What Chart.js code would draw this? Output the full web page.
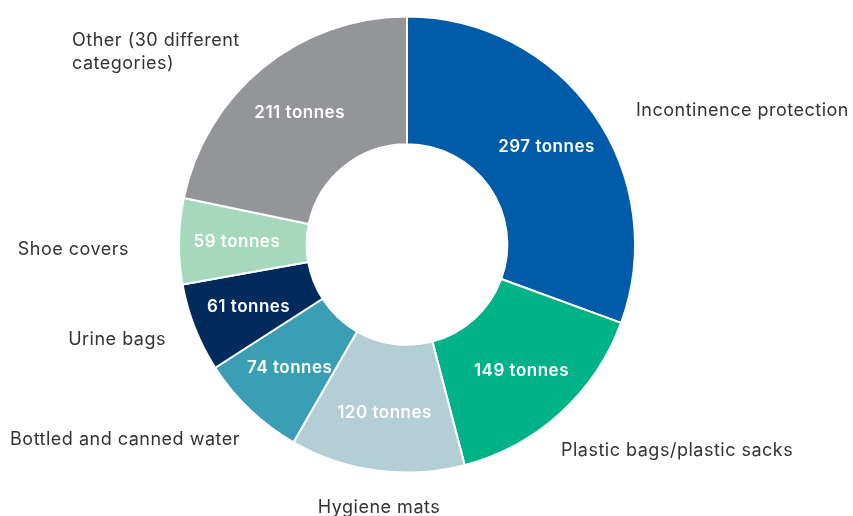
<!DOCTYPE html>
<html>
<head>
<meta charset="utf-8">
<script src="https://cdn.jsdelivr.net/npm/chart.js@4.4.1/dist/chart.umd.min.js"></script>
<style>
  html, body { margin: 0; padding: 0; background: #fff; }
  #wrap { width: 853px; height: 516px; position: relative; }
</style>
</head>
<body>
<div id="wrap"><canvas id="myChart"></canvas></div>
<script>
// waste categories, tonnes
const categories = [
  'Incontinence protection',
  'Plastic bags/plastic sacks',
  'Hygiene mats',
  'Bottled and canned water',
  'Urine bags',
  'Shoe covers',
  ['Other (30 different', 'categories)'],
];
const tonnes = [297, 149, 120, 74, 61, 59, 211];
const colours = ['#005ca9', '#00b386', '#b4ced6', '#3a9eb5', '#002b5c', '#a6d8bb', '#939598'];

// where each category name sits and how it is aligned
const namePlacement = [
  { x: 636, y: 111, align: 'left' },
  { x: 561, y: 451, align: 'left' },
  { x: 379, y: 508, align: 'center' },
  { x: 240, y: 440, align: 'right' },
  { x: 166, y: 340, align: 'right' },
  { x: 129, y: 250, align: 'right' },
  { x: 72, y: 41, align: 'left' },
];

const sliceLabels = {
  id: 'sliceLabels',
  afterDatasetsDraw(chart) {
    const c = chart.ctx;
    const meta = chart.getDatasetMeta(0);
    c.save();
    c.textBaseline = 'middle';

    // values inside the ring
    c.fillStyle = '#fff';
    c.textAlign = 'center';
    c.font = '600 17px Inter';
    c.letterSpacing = '0.5px';
    meta.data.forEach((arc, i) => {
      const mid = (arc.startAngle + arc.endAngle) / 2;
      const r = (arc.innerRadius + arc.outerRadius) / 2 + 6;
      c.fillText(tonnes[i] + ' tonnes', arc.x + Math.cos(mid) * r, arc.y + Math.sin(mid) * r);
    });

    // category names outside
    c.fillStyle = '#333';
    c.font = '18px Inter';
    c.letterSpacing = '0.5px';
    categories.forEach((name, i) => {
      const p = namePlacement[i];
      c.textAlign = p.align;
      const lines = Array.isArray(name) ? name : [name];
      lines.forEach((ln, k) => c.fillText(ln, p.x, p.y + k * 23));
    });
    c.restore();
  }
};

const ctx = document.getElementById('myChart').getContext('2d');
new Chart(ctx, {
  type: 'doughnut',
  data: {
    labels: categories,
    datasets: [{
      data: tonnes,
      backgroundColor: colours,
      borderColor: '#fff',
      borderWidth: 2,
    }],
  },
  options: {
    responsive: true,
    maintainAspectRatio: false,
    animation: false,
    cutout: '44%',
    layout: { padding: { left: 178, right: 217, top: 15, bottom: 42 } },
    plugins: {
      legend: { display: false },
      tooltip: { enabled: false },
    },
  },
  plugins: [sliceLabels],
});
</script>
</body>
</html>
